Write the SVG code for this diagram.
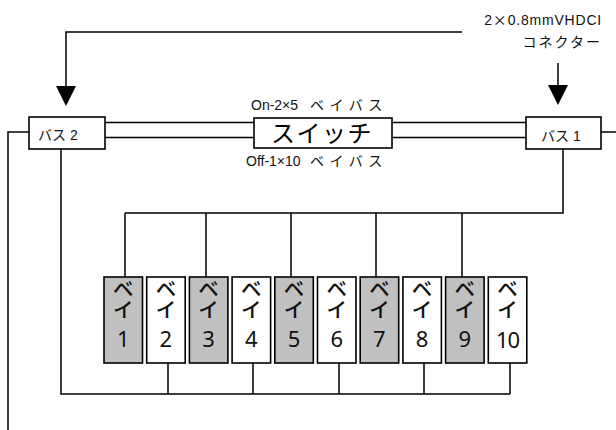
<svg xmlns="http://www.w3.org/2000/svg" width="616" height="430" viewBox="0 0 616 430">
<defs>
<style>
.box{fill:#fff;stroke:#000;stroke-width:1.6}
.odd{fill:#c0c0c0;stroke:#000;stroke-width:1.6}
.even{fill:#fff;stroke:#000;stroke-width:1.6}
.ln{fill:none;stroke:#000;stroke-width:1.5}
.lbl{font-family:"Liberation Sans","Noto Sans CJK JP",sans-serif;font-size:14px;fill:#111}
.fw{font-family:"Noto Sans CJK JP",sans-serif}
.bay{font-family:"Noto Sans CJK JP",sans-serif;font-size:21px;font-weight:500;fill:#111;writing-mode:vertical-rl}
.num{font-family:"Noto Sans","Open Sans",sans-serif;font-size:22px;fill:#111;text-anchor:middle}
.arr{fill:#000}
</style>
</defs>
<rect width="616" height="430" fill="#fff"/>
<g id="connectors">
<path class="ln" d="M462 32H66V88"/>
<polygon class="arr" points="56,86 76,86 66,106"/>
<path class="ln" d="M558 63V87"/>
<polygon class="arr" points="548,85 568,85 558,105"/>
<path class="ln" d="M105 122.5H254M105 137.5H254M392 122.5H526M392 137.5H526"/>
<path class="ln" d="M29 132H8V430"/>
<path class="ln" d="M601 132H616"/>
<path class="ln" d="M563 149V213H125M125 213V277M206 213V277M291 213V277M376 213V277M462 213V277"/>
<path class="ln" d="M61 149V394H510M168 363V394M253 363V394M339 363V394M424 363V394M510 363V394"/>
</g>
<g id="connector-label">
<text class="lbl" x="602" y="25" text-anchor="end" font-size="15" letter-spacing="0.8">2<tspan class="fw">×</tspan>0.8mmVHDCI</text>
<text class="lbl" x="602" y="47" text-anchor="end" font-size="15" letter-spacing="2">コネクター</text>
</g>
<g id="bus2">
<rect class="box" x="29" y="117" width="76" height="32"/>
<text class="lbl" x="38" y="140" font-size="15">バス 2</text>
</g>
<g id="bus1">
<rect class="box" x="526" y="117" width="75" height="32"/>
<text class="lbl" x="541" y="141" font-size="15">バス 1</text>
</g>
<g id="switch">
<rect class="box" x="254" y="118" width="138" height="30"/>
<text x="322" y="142" text-anchor="middle" font-family="Liberation Sans,'Noto Sans CJK JP',sans-serif" font-size="24" letter-spacing="1.5" fill="#000">スイッチ</text>
</g>
<g id="switch-labels">
<text class="lbl" x="251" y="110">On-2×5 <tspan x="310" letter-spacing="5.5">ベイバス</tspan></text>
<text class="lbl" x="246" y="166">Off-1×10 <tspan x="310" letter-spacing="5.5">ベイバス</tspan></text>
</g>
<g id="bay1"><rect class="odd" x="104" y="277" width="38.5" height="86"/><text class="bay" x="123.2" y="278">ベイ</text><text class="num" x="123.2" y="347">1</text></g>
<g id="bay2"><rect class="even" x="146.7" y="277" width="38.5" height="86"/><text class="bay" x="165.9" y="278">ベイ</text><text class="num" x="165.9" y="347">2</text></g>
<g id="bay3"><rect class="odd" x="189.4" y="277" width="38.5" height="86"/><text class="bay" x="208.6" y="278">ベイ</text><text class="num" x="208.6" y="347">3</text></g>
<g id="bay4"><rect class="even" x="232.1" y="277" width="38.5" height="86"/><text class="bay" x="251.3" y="278">ベイ</text><text class="num" x="251.3" y="347">4</text></g>
<g id="bay5"><rect class="odd" x="274.8" y="277" width="38.5" height="86"/><text class="bay" x="294" y="278">ベイ</text><text class="num" x="294" y="347">5</text></g>
<g id="bay6"><rect class="even" x="317.5" y="277" width="38.5" height="86"/><text class="bay" x="336.7" y="278">ベイ</text><text class="num" x="336.7" y="347">6</text></g>
<g id="bay7"><rect class="odd" x="360.2" y="277" width="38.5" height="86"/><text class="bay" x="379.4" y="278">ベイ</text><text class="num" x="379.4" y="347">7</text></g>
<g id="bay8"><rect class="even" x="402.9" y="277" width="38.5" height="86"/><text class="bay" x="422.1" y="278">ベイ</text><text class="num" x="422.1" y="347">8</text></g>
<g id="bay9"><rect class="odd" x="445.6" y="277" width="38.5" height="86"/><text class="bay" x="464.8" y="278">ベイ</text><text class="num" x="464.8" y="347">9</text></g>
<g id="bay10"><rect class="even" x="488.3" y="277" width="38.5" height="86"/><text class="bay" x="507.5" y="278">ベイ</text><text class="num" x="507.5" y="348" letter-spacing="-1">10</text></g>
</svg>
